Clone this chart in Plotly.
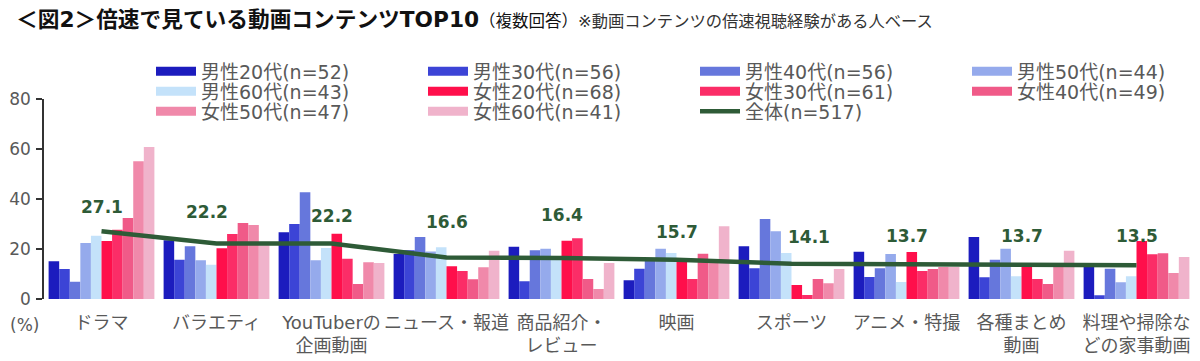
import plotly.graph_objects as go

categories = ["ドラマ", "バラエティ", "YouTuberの<br>企画動画", "ニュース・報道", "商品紹介・<br>レビュー",
              "映画", "スポーツ", "アニメ・特撮", "各種まとめ<br>動画", "料理や掃除な<br>どの家事動画"]

series_names = ["男性20代(n=52)", "男性30代(n=56)", "男性40代(n=56)", "男性50代(n=44)", "男性60代(n=43)",
                "女性20代(n=68)", "女性30代(n=61)", "女性40代(n=49)", "女性50代(n=47)", "女性60代(n=41)"]

male20 = [15.1, 23.5, 26.7, 18.0, 20.9, 7.5, 21.1, 18.9, 24.8, 13.1]
male30 = [12.0, 15.7, 30.0, 19.5, 7.1, 12.1, 12.3, 8.8, 8.7, 1.5]
male40 = [6.9, 21.1, 42.7, 24.8, 19.5, 16.0, 32.0, 12.3, 15.7, 12.1]
male50 = [22.4, 15.5, 15.5, 19.0, 20.1, 20.1, 27.1, 18.0, 20.1, 6.7]
male60 = [25.3, 13.7, 20.4, 20.7, 16.0, 18.4, 18.4, 6.8, 9.1, 9.1]
female20 = [23.2, 20.3, 26.1, 13.1, 23.3, 15.3, 5.6, 18.8, 13.1, 23.2]
female30 = [27.7, 26.0, 16.1, 11.2, 24.3, 8.0, 1.6, 11.2, 8.0, 17.9]
female40 = [32.4, 30.4, 6.0, 7.9, 8.0, 18.1, 8.0, 12.0, 6.0, 18.3]
female50 = [55.1, 29.6, 14.7, 12.7, 4.0, 15.5, 6.3, 12.8, 13.1, 10.4]
female60 = [60.8, 21.5, 14.4, 19.3, 14.4, 29.1, 12.0, 12.8, 19.3, 16.8]

total_name = "全体(n=517)"
total = [27.1, 22.2, 22.2, 16.6, 16.4, 15.7, 14.1, 13.7, 13.7, 13.5]

y_ticks = [0, 20, 40, 60, 80]

# styles
colors = ["#1c1cbe", "#3c44d6", "#6677dc", "#95aaec", "#c4e2fa",
          "#ff0f4b", "#fb2d67", "#f05a88", "#f089aa", "#f0b3cb"]
line_color = "#2e5b37"
label_dy = [24, 32, 28, 36, 43, 28, 27, 29, 29, 29]
label_dx = [0, -10, 0, 0, 0, 0, 17, 0, 0, 0]
legend_rows = ["legend", "legend", "legend", "legend", "legend2",
               "legend2", "legend2", "legend2", "legend3", "legend3"]

series_values = [male20, male30, male40, male50, male60,
                 female20, female30, female40, female50, female60]

FONT = "DejaVu Sans, Noto Sans CJK JP, sans-serif"
GRAY = "#595959"
W, H = 1192, 353
ML, MR, MT, MB = 36, 6, 91, 62
PW, PH = W - ML - MR, H - MT - MB


def px_x(x):
    return (x - ML) / PW


def px_y(y):
    return (H - MB - y) / PH


fig = go.Figure()
for name, vals, col in zip(series_names, series_values, colors):
    fig.add_trace(go.Bar(x=categories, y=vals, name=name, marker=dict(color=col, line=dict(width=0)),
                         legendgroup=name, showlegend=False))

fig.add_trace(go.Scatter(x=categories, y=total, name=total_name, mode="lines",
                         line=dict(color=line_color, width=4.5), legendgroup=total_name, showlegend=False))

# legend entries (wide swatches, linked to bar series through legendgroup)
for name, col, lg in zip(series_names, colors, legend_rows):
    fig.add_trace(go.Scatter(x=[None], y=[None], mode="lines", name=name, legendgroup=name, legend=lg,
                             line=dict(color=col, width=9), showlegend=True, hoverinfo="skip"))
fig.add_trace(go.Scatter(x=[None], y=[None], mode="lines", name=total_name, legendgroup=total_name,
                         legend="legend3", line=dict(color=line_color, width=4.5), showlegend=True,
                         hoverinfo="skip"))

for i, (c, v) in enumerate(zip(categories, total)):
    fig.add_annotation(x=c, y=v, text=f"<b>{v:.1f}</b>", showarrow=False,
                       xshift=label_dx[i], yshift=label_dy[i], yanchor="middle",
                       font=dict(family="DejaVu Sans, sans-serif", size=17, color=line_color))

fig.add_annotation(xref="paper", yref="paper", x=px_x(16), y=px_y(317),
                   text="(%)", showarrow=False, xanchor="center", yanchor="middle",
                   font=dict(family=FONT, size=17, color=GRAY))

legend_common = dict(orientation="h", xanchor="left", yanchor="middle",
                     entrywidth=217, entrywidthmode="pixels", itemwidth=40, traceorder="normal",
                     font=dict(family=FONT, size=19, color=GRAY), bgcolor="rgba(0,0,0,0)")

fig.update_layout(
    width=W, height=H,
    margin=dict(l=ML, r=MR, t=MT, b=MB, autoexpand=False),
    paper_bgcolor="white", plot_bgcolor="white",
    barmode="group", bargap=0.08, bargroupgap=0,
    title=dict(
        text="<b>＜図2＞倍速で見ている動画コンテンツTOP10</b>"
             "<span style='font-size:16.5px'>（複数回答）</span>"
             "<span style='font-size:16.3px;color:#333333'>※動画コンテンツの倍速視聴経験がある人ベース</span>",
        x=8 / W, xanchor="left", xref="container",
        y=1 - 11 / H, yanchor="middle", yref="container",
        font=dict(family=FONT, size=21.7, color="#111111"),
    ),
    legend=dict(x=px_x(143), y=px_y(63.5), **legend_common),
    legend2=dict(x=px_x(143), y=px_y(83.5), **legend_common),
    legend3=dict(x=px_x(143), y=px_y(103.5), **legend_common),
    showlegend=True,
    xaxis=dict(showline=False, showgrid=False, zeroline=False, ticks="",
               tickfont=dict(family=FONT, size=18, color=GRAY), ticklabelstandoff=11,
               categoryorder="array", categoryarray=categories),
    yaxis=dict(range=[0, 80], tickvals=y_ticks, showline=True, linecolor="#333333", linewidth=1.5,
               ticks="outside", ticklen=6, tickwidth=1.5, tickcolor="#333333",
               showgrid=False, zeroline=False, ticklabelstandoff=2,
               tickfont=dict(family=FONT, size=17, color=GRAY)),
)

fig.write_html("out.html")
